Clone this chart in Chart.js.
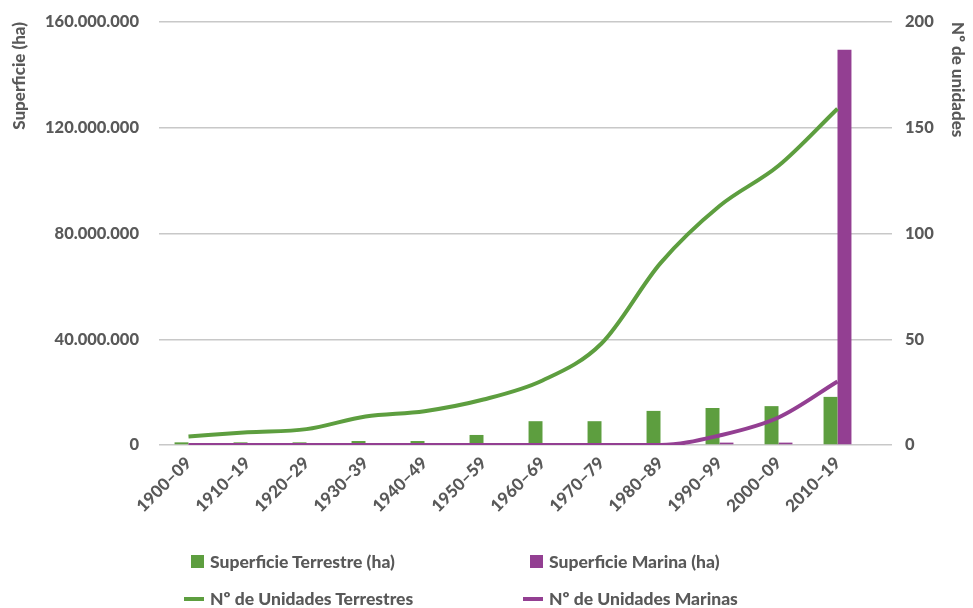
<!DOCTYPE html>
<html>
<head>
<meta charset="utf-8">
<script src="https://cdn.jsdelivr.net/npm/chart.js@4.4.1/dist/chart.umd.min.js"></script>
<style>
  html, body { margin: 0; padding: 0; background: #ffffff; }
  #wrap { position: relative; width: 973px; height: 608px; }
  #legend {
    position: absolute; left: 184px; top: 543px;
    display: grid; grid-template-columns: 339px auto; grid-auto-rows: 37px;
    font-family: Lato, sans-serif; font-weight: 900; font-size: 17.5px; color: #595959;
  }
  .item { display: flex; align-items: center; }
  .mark { width: 20px; display: flex; justify-content: flex-end; margin-right: 6px; }
  .box { width: 13px; height: 13px; }
  .line { width: 20px; height: 4px; }
</style>
</head>
<body>
<div id="wrap">
  <canvas id="chart" width="973" height="608"></canvas>
  <div id="legend"></div>
</div>
<script>
const categories = ['1900–09', '1910–19', '1920–29', '1930–39', '1940–49', '1950–59',
  '1960–69', '1970–79', '1980–89', '1990–99', '2000–09', '2010–19'];

// superficie (ha), eje izquierdo
const supTerrestre = [1000000, 1000000, 1000000, 1500000, 1500000, 3800000,
  9000000, 9000000, 12900000, 14000000, 14700000, 18200000];
const supMarina = [0, 0, 0, 0, 0, 0, 0, 0, 0, 900000, 900000, 149500000];

// nº de unidades, eje derecho
const unidadesTerrestres = [4, 6, 7.5, 13.5, 16, 21.5, 30.5, 48, 86, 113, 132, 159];
const unidadesMarinas = [0, 0, 0, 0, 0, 0, 0, 0, 0, 4.5, 13, 30];

const leftTicks = [0, 40000000, 80000000, 120000000, 160000000];
const rightTicks = [0, 50, 100, 150, 200];

const GREEN = '#5d9e3f';
const PURPLE = '#933f92';
const GRID = '#c8c8c8';
const TEXT = '#595959';
const FONT = 'Lato, sans-serif';
const W = 900;

// el área del gráfico no depende del alto de las etiquetas
const noPad = (scale, width) => {
  scale.width = width;
  scale.paddingTop = 0;
  scale.paddingBottom = 0;
};

const chart = new Chart(document.getElementById('chart'), {
  data: {
    labels: categories,
    datasets: [
      {
        type: 'bar',
        label: 'Superficie Terrestre (ha)',
        data: supTerrestre,
        backgroundColor: GREEN,
        yAxisID: 'y',
        categoryPercentage: 0.473,
        barPercentage: 1,
        order: 2
      },
      {
        type: 'bar',
        label: 'Superficie Marina (ha)',
        data: supMarina,
        backgroundColor: PURPLE,
        yAxisID: 'y',
        categoryPercentage: 0.473,
        barPercentage: 1,
        order: 2
      },
      {
        type: 'line',
        label: 'Nº de Unidades Terrestres',
        data: unidadesTerrestres,
        borderColor: GREEN,
        backgroundColor: GREEN,
        borderWidth: 4,
        pointRadius: 0,
        cubicInterpolationMode: 'monotone',
        yAxisID: 'y1',
        order: 1
      },
      {
        type: 'line',
        label: 'Nº de Unidades Marinas',
        data: unidadesMarinas,
        borderColor: PURPLE,
        backgroundColor: PURPLE,
        borderWidth: 4,
        pointRadius: 0,
        cubicInterpolationMode: 'monotone',
        yAxisID: 'y1',
        order: 1
      }
    ]
  },
  options: {
    responsive: false,
    animation: false,
    layout: { padding: { top: 22, left: 0, right: 0, bottom: 0 } },
    plugins: {
      legend: { display: false },
      tooltip: { enabled: false }
    },
    scales: {
      x: {
        grid: { display: false },
        border: { display: false },
        ticks: {
          color: TEXT,
          font: { family: FONT, size: 17, weight: W },
          minRotation: 45,
          maxRotation: 45,
          padding: 0
        },
        afterFit: (scale) => { scale.height = 163; }
      },
      y: {
        position: 'left',
        min: 0,
        max: 160000000,
        afterBuildTicks: (scale) => { scale.ticks = leftTicks.map(v => ({ value: v })); },
        grid: { color: GRID, lineWidth: 1.5, drawTicks: false },
        border: { display: false },
        ticks: {
          color: TEXT,
          font: { family: FONT, size: 16.5, weight: W },
          padding: 20,
          callback: (v) => v.toLocaleString('de-DE')
        },
        title: {
          display: true,
          text: 'Superficie (ha)',
          align: 'end',
          color: TEXT,
          font: { family: FONT, size: 17, weight: W },
          padding: { top: 9 }
        },
        afterFit: (scale) => noPad(scale, 159)
      },
      y1: {
        position: 'right',
        min: 0,
        max: 200,
        afterBuildTicks: (scale) => { scale.ticks = rightTicks.map(v => ({ value: v })); },
        grid: { color: GRID, lineWidth: 1.5, drawOnChartArea: false, drawTicks: true, tickLength: 25 },
        border: { display: false },
        ticks: {
          color: TEXT,
          font: { family: FONT, size: 16.5, weight: W },
          padding: 13
        },
        title: {
          display: true,
          text: 'Nº de unidades',
          align: 'end',
          color: TEXT,
          font: { family: FONT, size: 17, weight: W },
          padding: { top: 5 }
        },
        afterFit: (scale) => noPad(scale, 106)
      }
    }
  }
});

// leyenda en dos columnas
const legend = document.getElementById('legend');
chart.data.datasets.forEach(ds => {
  const item = document.createElement('div');
  item.className = 'item';
  const mark = document.createElement('div');
  mark.className = 'mark';
  const sw = document.createElement('div');
  sw.className = ds.type === 'bar' ? 'box' : 'line';
  sw.style.background = ds.type === 'bar' ? ds.backgroundColor : ds.borderColor;
  mark.appendChild(sw);
  const txt = document.createElement('span');
  txt.textContent = ds.label;
  item.appendChild(mark);
  item.appendChild(txt);
  legend.appendChild(item);
});
</script>
</body>
</html>
